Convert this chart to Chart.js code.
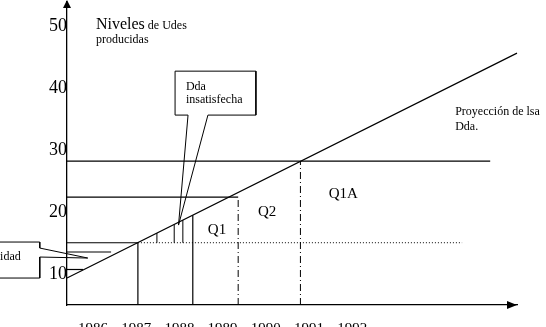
<!DOCTYPE html>
<html>
<head>
<meta charset="utf-8">
<script src="https://cdn.jsdelivr.net/npm/chart.js@4.4.0/dist/chart.umd.min.js"></script>
<style>
  html, body { margin: 0; padding: 0; background: #fff; }
</style>
</head>
<body>
<canvas id="grafico" width="546" height="327"></canvas>
<script>
// etiquetas de los ejes
const anios = [1986, 1987, 1988, 1989, 1990, 1991, 1992];
const niveles = [10, 20, 30, 40, 50];

// proyeccion de la demanda (año, nivel)
const proyeccionX = [1985.4, 1995.81];
const proyeccionY = [9.35, 45.65];

// lineas horizontales desde el eje: nivel y año donde terminan
const horizNivel = [28.23, 22.42, 15.05, 13.55, 10.73];
const horizFin = [1995.19, 1989.36, 1987.04, 1986.42, 1985.77];

// linea punteada
const punteadaX = [1987.04, 1994.54];
const punteadaY = [15.05, 15.05];

// verticales solidas hasta el eje
const vertX = [1987.04, 1988.31];
const vertTope = [15.05, 19.5];

// verticales cortas (dda insatisfecha)
const cortasX = [1987.48, 1987.88, 1988.08];
const cortasTope = [16.6, 18.0, 18.7];
const cortasBase = 15.05;

// verticales de trazo y punto
const trazosX = [1989.36, 1990.8];
const trazosTope = [22.42, 28.23];

// globo "Dda insatisfecha"
const globoDdaX = [1987.9, 1989.77, 1989.77, 1988.66, 1987.98, 1988.2, 1987.9, 1987.9];
const globoDdaY = [42.74, 42.74, 35.65, 35.65, 17.9, 35.65, 35.65, 42.74];

// globo "Capacidad"
const globoCapX = [1983.73, 1984.77, 1984.77, 1985.88, 1984.77, 1984.77, 1983.73];
const globoCapY = [15.16, 15.16, 14.19, 12.58, 12.74, 9.35, 9.35];

const ejeX0 = 1985.4;
const ejeY0 = 5;

// de dos arrays a puntos
function puntos(xs, ys) {
  const p = [];
  for (let i = 0; i < xs.length; i++) {
    p.push({ x: xs[i], y: ys[i] });
  }
  return p;
}

const datasets = [];
function lijn(data, extra) {
  datasets.push(Object.assign({
    data: data,
    showLine: true,
    pointRadius: 0,
    borderColor: '#000',
    borderWidth: 1.2,
    fill: false,
    clip: false
  }, extra || {}));
}

lijn(puntos(proyeccionX, proyeccionY));
for (let i = 0; i < horizNivel.length; i++) {
  lijn([{ x: ejeX0, y: horizNivel[i] }, { x: horizFin[i], y: horizNivel[i] }]);
}
lijn(puntos(punteadaX, punteadaY), { borderWidth: 1, borderDash: [1, 2] });
for (let i = 0; i < vertX.length; i++) {
  lijn([{ x: vertX[i], y: ejeY0 }, { x: vertX[i], y: vertTope[i] }]);
}
for (let i = 0; i < cortasX.length; i++) {
  lijn([{ x: cortasX[i], y: cortasBase }, { x: cortasX[i], y: cortasTope[i] }], { borderWidth: 1 });
}
for (let i = 0; i < trazosX.length; i++) {
  lijn([{ x: trazosX[i], y: ejeY0 }, { x: trazosX[i], y: trazosTope[i] }], { borderWidth: 1, borderDash: [7, 3, 1, 3] });
}
lijn(puntos(globoDdaX, globoDdaY), { borderWidth: 1 });
lijn(puntos(globoCapX, globoCapY), { borderWidth: 1 });

// textos en coordenadas del grafico
const textos = [
  { t: 'Dda', x: 1988.15, y: 39.68, size: 12 },
  { t: 'insatisfecha', x: 1988.15, y: 37.66, size: 12 },
  { t: 'producidas', x: 1986.07, y: 47.26, size: 12 },
  { t: 'Proyección de lsa', x: 1994.38, y: 35.65, size: 12 },
  { t: 'Dda.', x: 1994.38, y: 33.23, size: 12 },
  { t: 'Q1', x: 1988.87, y: 17.1, size: 15, align: 'center', base: 'middle' },
  { t: 'Q2', x: 1990.03, y: 20.0, size: 15, align: 'center', base: 'middle' },
  { t: 'Q1A', x: 1991.79, y: 22.9, size: 15, align: 'center', base: 'middle' },
  { t: 'Capacidad', x: 1984.33, y: 12.26, size: 12, align: 'right' }
];

const extras = {
  id: 'extras',
  afterDraw(chart) {
    const ctx = chart.ctx;
    const sx = chart.scales.x;
    const sy = chart.scales.y;
    const a = chart.chartArea;
    ctx.save();
    ctx.fillStyle = '#000';
    // flechas de los ejes
    ctx.beginPath();
    ctx.moveTo(a.left, 0);
    ctx.lineTo(a.left - 4, 8);
    ctx.lineTo(a.left + 4, 8);
    ctx.closePath();
    ctx.fill();
    ctx.beginPath();
    ctx.moveTo(a.right, a.bottom);
    ctx.lineTo(a.right - 10, a.bottom - 4);
    ctx.lineTo(a.right - 10, a.bottom + 4);
    ctx.closePath();
    ctx.fill();

    // titulo del eje
    const nx = sx.getPixelForValue(1986.07);
    const ny = sy.getPixelForValue(49.5);
    ctx.textBaseline = 'alphabetic';
    ctx.textAlign = 'left';
    ctx.font = '16px "Liberation Serif"';
    ctx.fillText('Niveles', nx, ny);
    const w = ctx.measureText('Niveles').width;
    ctx.font = '12px "Liberation Serif"';
    ctx.fillText(' de Udes', nx + w, ny);

    for (let i = 0; i < textos.length; i++) {
      const tx = textos[i];
      ctx.font = tx.size + 'px "Liberation Serif"';
      ctx.textAlign = tx.align || 'left';
      ctx.textBaseline = tx.base || 'alphabetic';
      ctx.fillText(tx.t, sx.getPixelForValue(tx.x), sy.getPixelForValue(tx.y));
    }
    ctx.restore();
  }
};

new Chart(document.getElementById('grafico'), {
  type: 'scatter',
  data: { datasets: datasets },
  options: {
    responsive: false,
    animation: false,
    layout: { padding: { top: 2, right: 29, left: 0, bottom: 0 } },
    plugins: { legend: { display: false }, tooltip: { enabled: false } },
    scales: {
      x: {
        type: 'linear',
        min: 1985.4,
        max: 1995.81,
        grid: { display: false, drawTicks: false },
        border: { display: true, color: '#000', width: 1.3 },
        afterBuildTicks: s => { s.ticks = anios.map(v => ({ value: v })); },
        afterFit: s => { s.height = 22; s.paddingLeft = 0; s.paddingRight = 0; },
        ticks: {
          autoSkip: false,
          maxRotation: 0,
          padding: 15,
          color: '#000',
          font: { family: 'Liberation Serif', size: 15 },
          callback: v => String(v)
        }
      },
      y: {
        type: 'linear',
        min: 5,
        max: 53.9,
        grid: { display: false, drawTicks: false },
        border: { display: true, color: '#000', width: 1.3 },
        afterBuildTicks: s => { s.ticks = niveles.map(v => ({ value: v })); },
        afterFit: s => { s.width = 67; s.paddingTop = 0; s.paddingBottom = 0; },
        ticks: {
          padding: 0,
          color: '#000',
          font: { family: 'Liberation Serif', size: 18 },
          callback: v => String(v)
        }
      }
    }
  },
  plugins: [extras]
});
</script>
</body>
</html>
